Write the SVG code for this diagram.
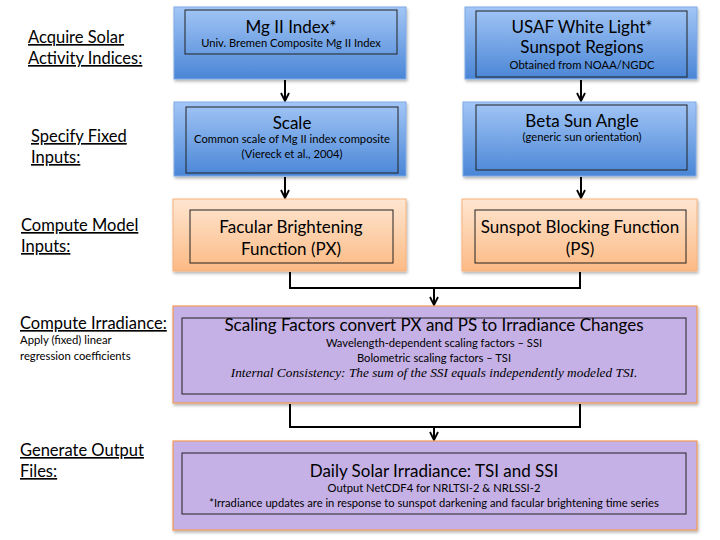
<svg xmlns="http://www.w3.org/2000/svg" width="720" height="540" viewBox="0 0 720 540">
<defs>
<linearGradient id="gBlue" x1="0" y1="0" x2="0" y2="1">
<stop offset="0" stop-color="#a3c6f6"/>
<stop offset="1" stop-color="#4a86d6"/>
</linearGradient>
<linearGradient id="gOrange" x1="0" y1="0" x2="0" y2="1">
<stop offset="0" stop-color="#fee6d1"/>
<stop offset="1" stop-color="#fcba84"/>
</linearGradient>
<filter id="sh" x="-5%" y="-5%" width="110%" height="120%">
<feDropShadow dx="1" dy="2" stdDeviation="1.5" flood-color="#000" flood-opacity="0.3"/>
</filter>
<marker id="arr" viewBox="0 0 10 10" refX="9" refY="5" markerWidth="10" markerHeight="10" markerUnits="userSpaceOnUse" orient="auto">
<path d="M1,1 L9,5 L1,9" fill="none" stroke="#000" stroke-width="1.8"/>
</marker>
</defs>
<style>
.blue{fill:url(#gBlue);stroke:#7ea9e6;stroke-width:1;filter:url(#sh)}
.orange{fill:url(#gOrange);stroke:#f8b27c;stroke-width:1;filter:url(#sh)}
.purple{fill:#c5b1e6;stroke:#f39a55;stroke-width:1.2;filter:url(#sh)}
.inner{fill:none;stroke:#222;stroke-width:1}
text{font-family:Lato,"Liberation Sans",sans-serif;fill:#000}
.t{font-size:17px;text-anchor:middle}
.s{font-size:11.2px;text-anchor:middle}
.lbl{font-size:16.5px;text-decoration:underline}
.sm{font-size:11.3px}
.it{font-family:"Liberation Serif",serif;font-style:italic;font-size:13.3px;text-anchor:middle}
.conn{fill:none;stroke:#000;stroke-width:2}
</style>

<g id="labels">
<text class="lbl" x="28" y="43">Acquire Solar</text>
<text class="lbl" x="28" y="64">Activity Indices:</text>
<text class="lbl" x="31" y="142">Specify Fixed</text>
<text class="lbl" x="31" y="163">Inputs:</text>
<text class="lbl" x="21" y="231">Compute Model</text>
<text class="lbl" x="21" y="252">Inputs:</text>
<text class="lbl" x="20" y="329">Compute Irradiance:</text>
<text class="sm" x="20" y="344">Apply (fixed) linear</text>
<text class="sm" x="20" y="360">regression coefficients</text>
<text class="lbl" x="20" y="456">Generate Output</text>
<text class="lbl" x="20" y="477">Files:</text>
</g>

<g id="connectors">
<line class="conn" x1="285" y1="80" x2="285" y2="101" marker-end="url(#arr)"/>
<line class="conn" x1="581" y1="80" x2="581" y2="101" marker-end="url(#arr)"/>
<line class="conn" x1="285" y1="177" x2="285" y2="198" marker-end="url(#arr)"/>
<line class="conn" x1="581" y1="177" x2="581" y2="198" marker-end="url(#arr)"/>
<polyline class="conn" points="290,272 290,288 580,288 580,272"/>
<line class="conn" x1="434" y1="288" x2="434" y2="305" marker-end="url(#arr)"/>
<polyline class="conn" points="290,404 290,427 580,427 580,404"/>
<line class="conn" x1="434" y1="427" x2="434" y2="440" marker-end="url(#arr)"/>
</g>

<g id="mg2">
<rect class="blue" x="174" y="7" width="232" height="72"/>
<rect class="inner" x="185" y="10" width="212" height="44"/>
<text class="t" x="291" y="33">Mg II Index*</text>
<text class="s" x="291" y="47">Univ. Bremen Composite Mg II Index</text>
</g>

<g id="usaf">
<rect class="blue" x="465" y="7" width="232" height="72"/>
<rect class="inner" x="476" y="11" width="211" height="66"/>
<text class="t" x="582" y="33">USAF White Light*</text>
<text class="t" x="582" y="53">Sunspot Regions</text>
<text class="s" x="582" y="69">Obtained from NOAA/NGDC</text>
</g>

<g id="scale">
<rect class="blue" x="174" y="102" width="232" height="74"/>
<rect class="inner" x="186" y="107" width="212" height="66"/>
<text class="t" x="292" y="129">Scale</text>
<text class="s" x="292" y="143">Common scale of Mg II index composite</text>
<text class="s" x="292" y="158">(Viereck et al., 2004)</text>
</g>

<g id="beta">
<rect class="blue" x="463" y="102" width="233" height="74"/>
<rect class="inner" x="476" y="105" width="211" height="65"/>
<text class="t" x="582" y="127">Beta Sun Angle</text>
<text class="s" x="582" y="141">(generic sun orientation)</text>
</g>

<g id="facular">
<rect class="orange" x="173" y="199" width="233" height="72"/>
<rect class="inner" x="190" y="210" width="203" height="53"/>
<text class="t" x="291" y="233">Facular Brightening</text>
<text class="t" x="291" y="255">Function (PX)</text>
</g>

<g id="sunspot">
<rect class="orange" x="462" y="199" width="235" height="72"/>
<rect class="inner" x="475" y="210" width="211" height="53"/>
<text class="t" x="580" y="233">Sunspot Blocking Function</text>
<text class="t" x="580" y="255">(PS)</text>
</g>

<g id="scaling">
<rect class="purple" x="173" y="306" width="524" height="97"/>
<rect class="inner" x="182" y="318" width="504" height="76"/>
<text class="t" x="434" y="331">Scaling Factors convert PX and PS to Irradiance Changes</text>
<text class="s" x="434" y="347">Wavelength-dependent scaling factors – SSI</text>
<text class="s" x="434" y="362">Bolometric scaling factors – TSI</text>
<text class="it" x="434" y="377">Internal Consistency: The sum of the SSI equals independently modeled TSI.</text>
</g>

<g id="output">
<rect class="purple" x="173" y="441" width="524" height="89"/>
<rect class="inner" x="182" y="453" width="504" height="61"/>
<text class="t" x="434" y="477">Daily Solar Irradiance: TSI and SSI</text>
<text class="s" x="434" y="492">Output NetCDF4 for NRLTSI-2 &amp; NRLSSI-2</text>
<text class="s" x="434" y="507">*Irradiance updates are in response to sunspot darkening and facular brightening time series</text>
</g>
</svg>
